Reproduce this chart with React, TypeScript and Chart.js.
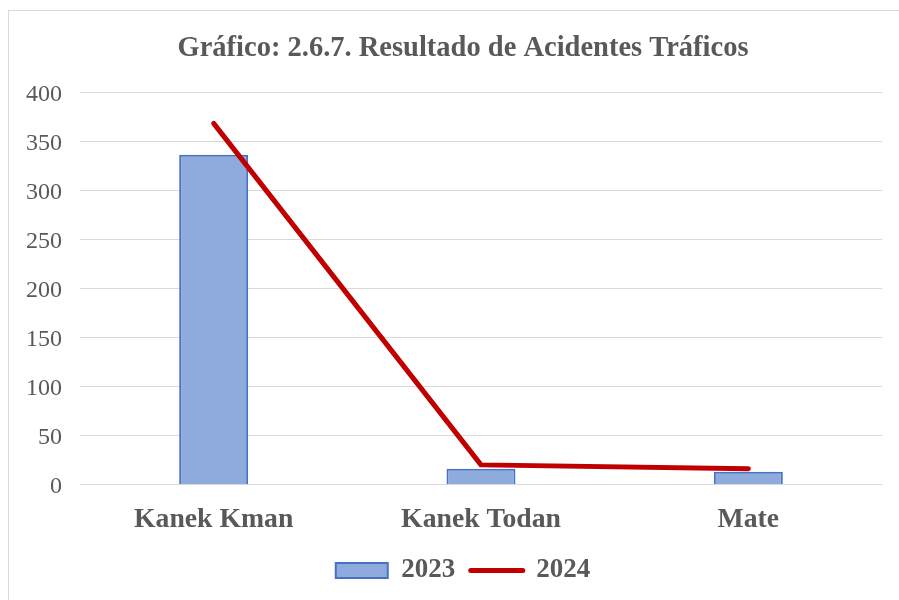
import React, { useEffect, useRef } from "react";
import { Chart, registerables } from "chart.js";

Chart.register(...registerables);

const categories = ["Kanek Kman", "Kanek Todan", "Mate"];
const values2023 = [336, 16, 13];
const values2024 = [368, 20, 16];
const seriesNames = ["2023", "2024"];
const titleText = "Gráfico: 2.6.7. Resultado de Acidentes Tráficos";

const FONT = "'Liberation Serif', 'Times New Roman', serif";
const TEXT = "#595959";

const unclipY = {
  id: "unclipY",
  afterLayout(chart: any) {
    const y = chart.scales.y;
    if (y) y.left = 0;
  },
};

export default function App() {
  const ref = useRef<HTMLCanvasElement | null>(null);

  useEffect(() => {
    if (!ref.current) return;
    const chart = new Chart(ref.current, {
      type: "bar",
      data: {
        labels: categories,
        datasets: [
          {
            type: "bar",
            label: seriesNames[0],
            data: values2023,
            backgroundColor: "#8FAADC",
            borderColor: "#4472C4",
            borderWidth: 2,
            barPercentage: 0.258,
            categoryPercentage: 1,
            order: 2,
          },
          {
            type: "line",
            label: seriesNames[1],
            data: values2024,
            borderColor: "#C00000",
            backgroundColor: "#C00000",
            borderWidth: 5,
            borderCapStyle: "round",
            borderJoinStyle: "round",
            pointRadius: 0,
            pointHoverRadius: 0,
            tension: 0,
            order: 1,
          } as any,
        ],
      },
      options: {
        responsive: false,
        animation: false,
        layout: { padding: { left: 44, right: 17, top: 31.5, bottom: 6 } },
        plugins: {
          tooltip: { enabled: false },
          title: {
            display: true,
            text: titleText,
            color: TEXT,
            font: { family: FONT, size: 28.5, weight: "bold" },
            padding: { top: 0, bottom: 26.3 },
          },
          legend: {
            position: "bottom",
            labels: {
              color: TEXT,
              font: { family: FONT, size: 27, weight: "bold" },
              usePointStyle: true,
              pointStyleWidth: 52,
              boxHeight: 15,
              padding: 15.5,
              generateLabels: (c: any) =>
                (Chart.defaults.plugins.legend.labels.generateLabels as any)(c)
                  .sort((a: any, b: any) => a.datasetIndex - b.datasetIndex)
                  .map((l: any) => {
                    const isBar = l.datasetIndex === 0;
                    return {
                      ...l,
                      pointStyle: isBar ? "rect" : "line",
                      lineWidth: isBar ? 2 : 5,
                      fillStyle: isBar ? "#8FAADC" : "#C00000",
                      strokeStyle: isBar ? "#4472C4" : "#C00000",
                      lineCap: isBar ? "butt" : "round",
                    };
                  }),
            },
          },
        },
        scales: {
          x: {
            grid: { display: false, drawTicks: false },
            border: { display: false },
            ticks: {
              color: TEXT,
              font: { family: FONT, size: 27.7, weight: "bold" },
              padding: 18.8,
              maxRotation: 0,
            },
            afterFit: (s: any) => {
              s.height = 57;
            },
          },
          y: {
            min: 0,
            max: 400,
            grid: { color: "#D9D9D9", lineWidth: 1, drawTicks: false },
            border: { display: false },
            ticks: {
              stepSize: 50,
              color: TEXT,
              font: { family: FONT, size: 24 },
              padding: 18,
              labelOffset: 2.5,
            },
            afterFit: (s: any) => {
              s.width = 36;
            },
          },
        },
      },
      plugins: [unclipY],
    });
    return () => chart.destroy();
  }, []);

  return (
    <div style={{ position: "fixed", left: 0, top: 0, width: 899, height: 600, overflow: "hidden", background: "#fff" }}>
      <div
        style={{
          position: "absolute",
          left: 8,
          top: 10,
          width: 1000,
          height: 1000,
          border: "1px solid #D9D9D9",
        }}
      />
      <canvas ref={ref} width={899} height={600} style={{ position: "absolute", left: 0, top: 0 }} />
    </div>
  );
}
